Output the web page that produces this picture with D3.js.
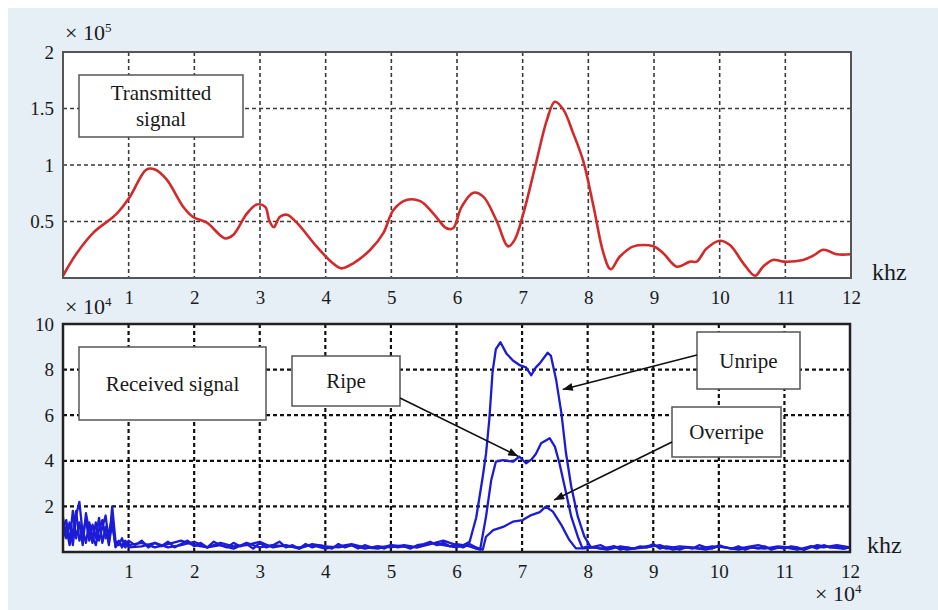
<!DOCTYPE html>
<html>
<head>
<meta charset="utf-8">
<script src="https://cdn.jsdelivr.net/npm/d3@7/dist/d3.min.js"></script>
<style>
	body { margin: 0; background: #fff; }
</style>
</head>
<body>
<div id="chart"></div>
<script>
// ---- data (x in units of 10^4, as on the axes) ----
var xTicks = [1, 2, 3, 4, 5, 6, 7, 8, 9, 10, 11, 12];
var transTicks = [0.5, 1, 1.5, 2];
var recvTicks = [2, 4, 6, 8, 10];

// transmitted signal, x 10^5
var transFreq = [0, 0.21, 0.46, 0.82, 1.02, 1.27, 1.40, 1.58, 1.83, 1.98, 2.19, 2.47, 2.59, 2.80, 2.95,
	3.08, 3.14, 3.21, 3.30, 3.41, 3.56, 3.86, 4.11, 4.24, 4.42, 4.68, 4.88, 5.03, 5.23, 5.44,
	5.64, 5.84, 5.94, 6.07, 6.25, 6.40, 6.60, 6.78, 6.88, 7.01, 7.19, 7.37, 7.49, 7.62, 7.77,
	7.92, 8.08, 8.23, 8.34, 8.48, 8.69, 8.99, 9.14, 9.35, 9.55, 9.65, 9.80, 10.0, 10.16, 10.36,
	10.54, 10.66, 10.81, 10.97, 11.27, 11.43, 11.58, 11.78, 12];
var transAmp = [0.02, 0.22, 0.40, 0.57, 0.72, 0.96, 0.96, 0.87, 0.63, 0.54, 0.49, 0.35, 0.38, 0.57, 0.65,
	0.63, 0.51, 0.45, 0.54, 0.56, 0.49, 0.28, 0.13, 0.085, 0.13, 0.25, 0.40, 0.60, 0.69, 0.68,
	0.57, 0.44, 0.44, 0.63, 0.755, 0.72, 0.51, 0.28, 0.34, 0.57, 0.985, 1.40, 1.56, 1.49, 1.28,
	1.04, 0.63, 0.22, 0.077, 0.19, 0.28, 0.28, 0.22, 0.10, 0.145, 0.145, 0.26, 0.33, 0.29, 0.13,
	0.02, 0.10, 0.16, 0.145, 0.16, 0.20, 0.25, 0.21, 0.21];

// received signals, x 10^4
var unripeFreq = [0, 0.05, 0.1, 0.15, 0.2, 0.25, 0.3, 0.35, 0.4, 0.45, 0.5, 0.55, 0.6, 0.65, 0.7, 0.75, 0.8, 0.85, 0.9, 0.95, 1.0,
	1.1, 1.2, 1.3, 1.4, 1.5, 1.6, 1.7, 1.8, 1.9, 2.0, 2.1, 2.2, 2.3, 2.4, 2.5, 2.6, 2.7, 2.8, 2.9, 3.0,
	3.1, 3.2, 3.3, 3.4, 3.5, 3.6, 3.7, 3.8, 3.9, 4.0, 4.1, 4.2, 4.3, 4.4, 4.5, 4.6, 4.7, 4.8, 4.9, 5.0,
	5.1, 5.2, 5.3, 5.4, 5.5, 5.6, 5.7, 5.8, 5.9, 6.0,
	6.1, 6.2, 6.3, 6.4, 6.45, 6.5, 6.55, 6.6, 6.67, 6.76, 6.86, 6.96, 7.06, 7.14, 7.21, 7.27, 7.39, 7.44, 7.52, 7.6,
	7.67, 7.75, 7.85, 7.95, 8.05,
	8.2, 8.3, 8.4, 8.5, 8.6, 8.7, 8.8, 8.9, 9.0, 9.1, 9.2, 9.3, 9.4, 9.5, 9.6, 9.7, 9.8, 9.9, 10.0,
	10.1, 10.2, 10.3, 10.4, 10.5, 10.6, 10.7, 10.8, 10.9, 11.0, 11.1, 11.2, 11.3, 11.4, 11.5, 11.6, 11.7, 11.8, 11.9, 12.0];
var unripeAmp = [1.5, 0.6, 1.3, 0.3, 1.6, 2.2, 0.8, 1.4, 0.5, 1.2, 0.6, 1.5, 0.4, 1.1, 0.3, 2.0, 0.5, 0.3, 0.6, 0.2, 0.5,
	0.3, 0.5, 0.2, 0.4, 0.25, 0.45, 0.2, 0.35, 0.5, 0.25, 0.4, 0.2, 0.45, 0.3, 0.2, 0.4, 0.25, 0.35, 0.15, 0.4,
	0.2, 0.3, 0.45, 0.2, 0.3, 0.15, 0.35, 0.2, 0.3, 0.25, 0.15, 0.35, 0.2, 0.3, 0.15, 0.3, 0.2, 0.25, 0.15, 0.3,
	0.2, 0.25, 0.15, 0.3, 0.35, 0.45, 0.3, 0.4, 0.25, 0.35,
	0.3, 0.45, 1.5, 3.3, 4.3, 5.8, 7.9, 8.9, 9.2, 8.71, 8.4, 8.2, 8.1, 7.75, 8.1, 8.27, 8.74, 8.6, 7.54, 6.08,
	4.33, 2.86, 1.55, 0.67, 0.2,
	0.3, 0.15, 0.25, 0.1, 0.2, 0.15, 0.25, 0.2, 0.35, 0.15, 0.25, 0.2, 0.1, 0.2, 0.15, 0.3, 0.2, 0.15, 0.3,
	0.2, 0.15, 0.25, 0.1, 0.2, 0.15, 0.25, 0.1, 0.2, 0.15, 0.25, 0.2, 0.1, 0.25, 0.15, 0.3, 0.2, 0.25, 0.15, 0.2];

var ripeFreq = [0, 0.05, 0.1, 0.15, 0.2, 0.25, 0.3, 0.35, 0.4, 0.45, 0.5, 0.55, 0.6, 0.65, 0.7, 0.75, 0.8, 0.85, 0.9, 0.95, 1.0,
	1.2, 1.4, 1.6, 1.8, 2.0, 2.2, 2.4, 2.6, 2.8, 3.0, 3.2, 3.4, 3.6, 3.8, 4.0, 4.2, 4.4, 4.6, 4.8, 5.0,
	5.2, 5.4, 5.6, 5.8, 6.0,
	6.1, 6.2, 6.3, 6.36, 6.45, 6.53, 6.6, 6.71, 6.86, 6.96, 7.06, 7.14, 7.21, 7.29, 7.42, 7.5, 7.57, 7.65, 7.75, 7.85,
	7.92, 8.0,
	8.2, 8.4, 8.6, 8.8, 9.0, 9.2, 9.4, 9.6, 9.8, 10.0, 10.2, 10.4, 10.6, 10.8, 11.0, 11.2, 11.4, 11.6, 11.8, 12.0];
var ripeAmp = [1.0, 1.4, 0.4, 1.8, 0.6, 1.3, 0.3, 1.7, 0.9, 0.4, 1.3, 0.5, 1.1, 1.6, 0.4, 1.2, 0.3, 0.5, 0.2, 0.4, 0.3,
	0.4, 0.2, 0.35, 0.5, 0.3, 0.2, 0.4, 0.25, 0.3, 0.45, 0.2, 0.3, 0.15, 0.35, 0.25, 0.2, 0.3, 0.15, 0.25, 0.2,
	0.3, 0.2, 0.4, 0.3, 0.2,
	0.3, 0.25, 0.15, 0.1, 1.55, 3.16, 3.96, 4.03, 3.96, 4.18, 3.89, 4.05, 4.3, 4.77, 4.99, 4.62, 3.89, 2.86, 1.55, 0.67,
	0.17, 0.25,
	0.15, 0.25, 0.1, 0.2, 0.3, 0.15, 0.25, 0.2, 0.1, 0.25, 0.15, 0.2, 0.3, 0.15, 0.2, 0.1, 0.25, 0.2, 0.3, 0.2];

var overripeFreq = [0, 0.05, 0.1, 0.15, 0.2, 0.25, 0.3, 0.35, 0.4, 0.45, 0.5, 0.55, 0.6, 0.65, 0.7, 0.75, 0.8, 0.85, 0.9, 0.95, 1.0,
	1.2, 1.4, 1.6, 1.8, 2.0, 2.2, 2.4, 2.6, 2.8, 3.0, 3.2, 3.4, 3.6, 3.8, 4.0, 4.2, 4.4, 4.6, 4.8, 5.0,
	5.2, 5.4, 5.6, 5.8, 6.0,
	6.1, 6.2, 6.3, 6.4, 6.45, 6.56, 6.71, 6.86, 7.01, 7.14, 7.27, 7.36, 7.47, 7.6, 7.72, 7.82, 7.95,
	8.1, 8.3, 8.5, 8.7, 8.9, 9.1, 9.3, 9.5, 9.7, 9.9, 10.1, 10.3, 10.5, 10.7, 10.9, 11.1, 11.3, 11.5, 11.7, 11.9, 12.0];
var overripeAmp = [0.6, 1.1, 0.3, 0.9, 1.8, 0.5, 1.0, 0.4, 1.3, 0.7, 0.3, 1.0, 1.4, 0.6, 0.9, 1.5, 0.2, 0.4, 0.3, 0.5, 0.2,
	0.25, 0.4, 0.2, 0.3, 0.45, 0.2, 0.3, 0.15, 0.4, 0.2, 0.3, 0.25, 0.2, 0.3, 0.15, 0.25, 0.35, 0.2, 0.15, 0.3,
	0.25, 0.2, 0.35, 0.5, 0.3,
	0.2, 0.35, 0.2, 0.1, 0.67, 0.96, 1.1, 1.33, 1.4, 1.62, 1.75, 1.99, 1.77, 1.18, 0.53, 0.16, 0.16,
	0.2, 0.1, 0.25, 0.15, 0.2, 0.3, 0.1, 0.2, 0.15, 0.25, 0.2, 0.1, 0.2, 0.15, 0.25, 0.2, 0.1, 0.3, 0.2, 0.15, 0.2];

// annotation labels and the point each arrow points at (data coords)
var recvLabels = ["Received signal", "Ripe", "Unripe", "Overripe"];
var arrowTips = [null, [6.94, 4.2], [7.62, 7.13], [7.49, 2.28]];

// ---- layout ----
var W = 938, H = 610;
var serif = "Liberation Serif";
var textColor = "#1a1a1a";
var top1 = {left: 63, right: 851, top: 52, bottom: 278};
var top2 = {left: 63, right: 850, top: 324, bottom: 552};

var svg = d3.select("#chart").append("svg")
	.attr("width", W)
	.attr("height", H);

svg.append("rect")
	.attr("x", 8).attr("y", 8)
	.attr("width", W - 8).attr("height", H - 8)
	.attr("fill", "#e6eef6");

var defs = svg.append("defs");
defs.append("marker")
	.attr("id", "head")
	.attr("viewBox", "0 0 10 8")
	.attr("refX", 10).attr("refY", 4)
	.attr("markerWidth", 11).attr("markerHeight", 8)
	.attr("markerUnits", "userSpaceOnUse")
	.attr("orient", "auto")
	.append("path")
	.attr("d", "M0,0 L10,4 L0,8 Z")
	.attr("fill", "#111");

function addText(x0, y0, size) {
	return svg.append("text")
		.attr("x", x0).attr("y", y0)
		.attr("font-family", serif)
		.attr("font-size", size)
		.attr("fill", textColor);
}

function panel(box, yMax, yTicks, grid) {
	var x = d3.scaleLinear().domain([0, 12]).range([box.left, box.right]);
	var y = d3.scaleLinear().domain([0, yMax]).range([box.bottom, box.top]);

	svg.append("rect")
		.attr("x", box.left).attr("y", box.top)
		.attr("width", box.right - box.left).attr("height", box.bottom - box.top)
		.attr("fill", "#fff");

	var g = svg.append("g").attr("class", "grid")
		.attr("stroke", grid.color)
		.attr("stroke-width", grid.width)
		.attr("stroke-dasharray", "4,3");
	g.selectAll(".gx").data(xTicks.slice(0, -1)).enter().append("line")
		.attr("x1", function(d) { return x(d); }).attr("x2", function(d) { return x(d); })
		.attr("y1", box.top).attr("y2", box.bottom);
	g.selectAll(".gy").data(yTicks.slice(0, -1)).enter().append("line")
		.attr("y1", function(d) { return y(d); }).attr("y2", function(d) { return y(d); })
		.attr("x1", box.left).attr("x2", box.right);

	var xAxis = d3.axisBottom(x).tickValues(xTicks).tickSize(0).tickPadding(13)
		.tickFormat(d3.format("d"));
	var yAxis = d3.axisLeft(y).tickValues(yTicks).tickSize(0).tickPadding(9)
		.tickFormat(function(d) { return String(d); });

	svg.append("g")
		.attr("transform", "translate(0," + box.bottom + ")")
		.call(xAxis)
		.attr("font-family", serif)
		.attr("font-size", 19)
		.call(function(a) { a.select(".domain").remove(); })
		.selectAll("text").attr("fill", textColor);
	svg.append("g")
		.attr("transform", "translate(" + box.left + ",0)")
		.call(yAxis)
		.attr("font-family", serif)
		.attr("font-size", 19)
		.call(function(a) { a.select(".domain").remove(); })
		.selectAll("text").attr("fill", textColor);

	return {x: x, y: y};
}

function frame(box, color, width) {
	svg.append("rect")
		.attr("x", box.left).attr("y", box.top)
		.attr("width", box.right - box.left).attr("height", box.bottom - box.top)
		.attr("fill", "none")
		.attr("stroke", color)
		.attr("stroke-width", width);
}

function exponent(xPos, yPos, power) {
	var t = addText(xPos, yPos, 22);
	t.append("tspan").text("\u00d7 10");
	t.append("tspan").attr("dy", -8).attr("font-size", 13).text(power);
}

function labelBox(x0, y0, w, h, lines) {
	svg.append("rect")
		.attr("x", x0).attr("y", y0)
		.attr("width", w).attr("height", h)
		.attr("fill", "#fff")
		.attr("stroke", "#555")
		.attr("stroke-width", 1.5);
	var t = addText(0, 0, 21).attr("text-anchor", "middle");
	var lh = 26;
	var startY = y0 + h / 2 - (lines.length - 1) * lh / 2 + 7;
	lines.forEach(function(line, i) {
		t.append("tspan").attr("x", x0 + w / 2).attr("y", startY + i * lh).text(line);
	});
}

// ---- transmitted ----
var p1 = panel(top1, 2, transTicks, {color: "#3a3a3a", width: 1.6});
var line1 = d3.line()
	.x(function(d) { return p1.x(d[0]); })
	.y(function(d) { return p1.y(d[1]); })
	.curve(d3.curveCatmullRom.alpha(0.5));
svg.append("path")
	.datum(d3.zip(transFreq, transAmp))
	.attr("d", line1)
	.attr("fill", "none")
	.attr("stroke", "#d22a2a")
	.attr("stroke-width", 2.6);
frame(top1, "#555", 2);
exponent(65, 40, "5");
addText(872, 280, 24).text("khz");
labelBox(79, 75, 164, 62, ["Transmitted", "signal"]);

// ---- received ----
var p2 = panel(top2, 10, recvTicks, {color: "#111", width: 2.2});
var line2 = d3.line()
	.x(function(d) { return p2.x(d[0]); })
	.y(function(d) { return p2.y(d[1]); });
[[overripeFreq, overripeAmp], [ripeFreq, ripeAmp], [unripeFreq, unripeAmp]].forEach(function(s) {
	svg.append("path")
		.datum(d3.zip(s[0], s[1]))
		.attr("d", line2)
		.attr("fill", "none")
		.attr("stroke", "#1c1cd4")
		.attr("stroke-width", 2.3)
		.attr("stroke-linejoin", "round");
});
frame(top2, "#222", 2.5);
exponent(65, 314, "4");
exponent(815, 601, "4");
addText(867, 553, 24).text("khz");

var boxes = [[79, 347, 187, 73], [292, 356, 108, 50], [697, 332, 103, 57], [672, 407, 109, 50]];
var arrowFrom = [null, [400, 398], [697, 355], [672, 442]];
boxes.forEach(function(b, i) {
	labelBox(b[0], b[1], b[2], b[3], [recvLabels[i]]);
	if (arrowTips[i]) {
		svg.append("line")
			.attr("x1", arrowFrom[i][0]).attr("y1", arrowFrom[i][1])
			.attr("x2", p2.x(arrowTips[i][0])).attr("y2", p2.y(arrowTips[i][1]))
			.attr("stroke", "#111")
			.attr("stroke-width", 1.6)
			.attr("marker-end", "url(#head)");
	}
});
</script>
</body>
</html>
